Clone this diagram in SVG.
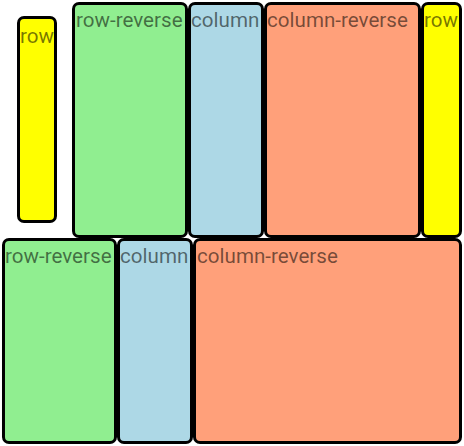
<svg xmlns="http://www.w3.org/2000/svg" width="464" height="446" viewBox="0 0 464 446">
  <style>
    .box { stroke: #000; stroke-width: 3; }
    .yellow { fill: #ffff00; }
    .green { fill: #90ee90; }
    .blue { fill: #add8e6; }
    .salmon { fill: #ffa07a; }
    .label { font-family: Roboto, "Liberation Sans", sans-serif; font-size: 20.6px; fill: #000; fill-opacity: 0.55; }
  </style>
  <rect x="0" y="0" width="464" height="446" fill="#ffffff"/>
  <g id="row1-row">
    <rect class="box yellow" x="18.5" y="17.5" width="37" height="204" rx="5.5"/>
    <text class="label" x="20" y="43">row</text>
  </g>
  <g id="row1-row-reverse">
    <rect class="box green" x="73.5" y="3.5" width="113" height="233" rx="5.5"/>
    <text class="label" x="76" y="27">row-reverse</text>
  </g>
  <g id="row1-column">
    <rect class="box blue" x="189.5" y="3.5" width="73" height="233" rx="5.5"/>
    <text class="label" x="191" y="27">column</text>
  </g>
  <g id="row1-column-reverse">
    <rect class="box salmon" x="265.5" y="3.5" width="154" height="233" rx="5.5"/>
    <text class="label" x="267" y="27">column-reverse</text>
  </g>
  <g id="row1-row-2">
    <rect class="box yellow" x="422.5" y="3.5" width="38" height="233" rx="5.5"/>
    <text class="label" x="424" y="27">row</text>
  </g>
  <g id="row2-row-reverse">
    <rect class="box green" x="3.5" y="239.5" width="112" height="203" rx="5.5"/>
    <text class="label" x="5" y="263">row-reverse</text>
  </g>
  <g id="row2-column">
    <rect class="box blue" x="118.5" y="239.5" width="73" height="203" rx="5.5"/>
    <text class="label" x="120" y="263">column</text>
  </g>
  <g id="row2-column-reverse">
    <rect class="box salmon" x="194.5" y="239.5" width="266" height="203" rx="5.5"/>
    <text class="label" x="197" y="263">column-reverse</text>
  </g>
  <g id="connectors"/>
</svg>
